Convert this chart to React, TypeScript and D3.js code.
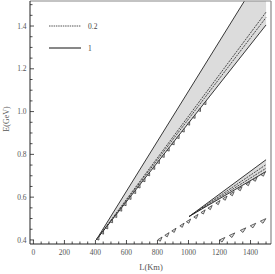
import * as d3 from 'd3';

// band start vertex [L, E] and boundary end values at L = 1500
const bandStart: [number, number][] = [[405, 0.40], [1005, 0.51]];
const solidUpperEnd = [1.68, 0.775];
const solidLowerEnd = [1.405, 0.72];
const dashedEnds = [[1.465, 1.44], [0.752, 0.735]];

// teeth (islands) along each band: line [L0,E0,L1,E1] and tooth positions
const teethLines = [
    [405, 0.40, 1500, 1.405],
    [800, 0.40, 1500, 0.72],
    [1200, 0.40, 1500, 0.50],
];
const teethL = [
    [415, 445, 472, 503, 530, 562, 590, 622, 652, 680, 712, 742, 775, 805, 836, 868, 900, 932, 965, 1000, 1035, 1070, 1105],
    [816, 861, 906, 958, 1000, 1048, 1094, 1139, 1190, 1235, 1281, 1332, 1384, 1429, 1481],
    [1217, 1281, 1352, 1416, 1481],
];
const teethSize = [[3.5, 2.2], [5, 2.6], [6, 3]];

const xTicks = [0, 200, 400, 600, 800, 1000, 1200, 1400];
const yTicks = [0.4, 0.6, 0.8, 1.0, 1.2, 1.4];
const legendLabels = ['0.2', '1'];

const W = 275;
const H = 274;
const LEFT = 30, RIGHT = 271, TOP = 1, BOTTOM = 244;
const FONT = '"Liberation Serif", "DejaVu Serif", serif';

export default function App() {
    const x = d3.scaleLinear().domain([-22, 1532]).range([LEFT, RIGHT]);
    const y = d3.scaleLinear().domain([0.381, 1.517]).range([BOTTOM, TOP]);
    const line = d3.line<[number, number]>().x(d => x(d[0])).y(d => y(d[1]));

    const xMinor = d3.range(0, 1501, 50);
    const yMinor = d3.range(0.4, 1.51, 0.05);

    const bands = bandStart.map((s, i) => {
        const up: [number, number] = [1500, solidUpperEnd[i]];
        const lo: [number, number] = [1500, solidLowerEnd[i]];
        const poly = line([s, up, lo, s]) as string;
        return (
            <g key={'b' + i}>
                <path d={poly} fill="#dcdcdc" stroke="none" />
                {dashedEnds[i].map((e, j) => (
                    <path key={j} d={line([s, [1500, e]]) as string} fill="none" stroke="#222" strokeWidth={0.8} strokeDasharray="2,1" />
                ))}
                <path d={line([s, up]) as string} fill="none" stroke="#222" strokeWidth={0.9} />
                <path d={line([s, lo]) as string} fill="none" stroke="#222" strokeWidth={0.9} />
            </g>
        );
    });

    const teeth = teethLines.map((tl, i) => {
        const [l0, e0, l1, e1] = tl;
        const px0 = x(l0), py0 = y(e0), px1 = x(l1), py1 = y(e1);
        const len = Math.hypot(px1 - px0, py1 - py0);
        const ux = (px1 - px0) / len, uy = (py1 - py0) / len;
        const nx = -uy, ny = ux; // points down-right
        const [w, h] = teethSize[i];
        return teethL[i].map((L, k) => {
            const E = e0 + (e1 - e0) * (L - l0) / (l1 - l0);
            const px = x(L), py = y(E);
            const pts = [
                [px - ux * w / 2, py - uy * w / 2],
                [px + ux * w / 2, py + uy * w / 2],
                [px + nx * h - ux * w / 4, py + ny * h - uy * w / 4],
            ];
            return (
                <polygon key={i + '-' + k} points={pts.map(p => p.join(',')).join(' ')}
                    fill="#e2e2e2" stroke="#333" strokeWidth={0.75} />
            );
        });
    });

    return (
        <svg width={W} height={H} style={{ position: 'absolute', left: 0, top: 0, background: '#fff' }}>
            <defs>
                <clipPath id="plot">
                    <rect x={LEFT} y={TOP} width={RIGHT - LEFT} height={BOTTOM - TOP} />
                </clipPath>
            </defs>
            <g clipPath="url(#plot)">
                {bands}
                {teeth}
            </g>

            {/* frame */}
            <line x1={LEFT} x2={RIGHT} y1={TOP} y2={TOP} stroke="#888" strokeWidth={1.2} />
            <line x1={RIGHT} x2={RIGHT} y1={TOP} y2={BOTTOM} stroke="#888" strokeWidth={1.2} />
            <line x1={LEFT} x2={RIGHT} y1={BOTTOM} y2={BOTTOM} stroke="#222" strokeWidth={1} />
            <line x1={LEFT} x2={LEFT} y1={TOP} y2={BOTTOM} stroke="#222" strokeWidth={1} />

            {xMinor.map(v => (
                <line key={'xm' + v} x1={x(v)} x2={x(v)} y1={BOTTOM} y2={BOTTOM - (v % 200 === 0 ? 4 : 2.5)} stroke="#222" strokeWidth={0.8} />
            ))}
            {yMinor.map(v => {
                const major = yTicks.some(t => Math.abs(t - v) < 1e-6);
                return <line key={'ym' + v} x1={LEFT} x2={LEFT + (major ? 4 : 2.5)} y1={y(v)} y2={y(v)} stroke="#222" strokeWidth={0.8} />;
            })}

            {xTicks.map(v => (
                <text key={'xt' + v} x={x(v)} y={255} textAnchor="middle" fontFamily={FONT} fontSize={7.5} fill="#555">{v}</text>
            ))}
            {yTicks.map(v => (
                <text key={'yt' + v} x={26.5} y={y(v) + 2.6} textAnchor="end" fontFamily={FONT} fontSize={7.5} fill="#555">{v.toFixed(1)}</text>
            ))}

            <text x={151} y={270} textAnchor="middle" fontFamily={FONT} fontSize={8.5} fill="#555">L(Km)</text>
            <text transform="translate(9,119) rotate(-90)" textAnchor="middle" fontFamily={FONT} fontSize={8} fill="#555">E(GeV)</text>

            {/* legend */}
            {legendLabels.map((lab, i) => {
                const ly = 26 + i * 22;
                return (
                    <g key={lab}>
                        <line x1={49} x2={81} y1={ly} y2={ly} stroke={i === 0 ? '#555' : '#111'} strokeWidth={1}
                            strokeDasharray={i === 0 ? '1.5,0.8' : undefined} />
                        <text x={88} y={ly + 2.6} fontFamily={FONT} fontSize={7.5} fill="#444">{lab}</text>
                    </g>
                );
            })}
        </svg>
    );
}
